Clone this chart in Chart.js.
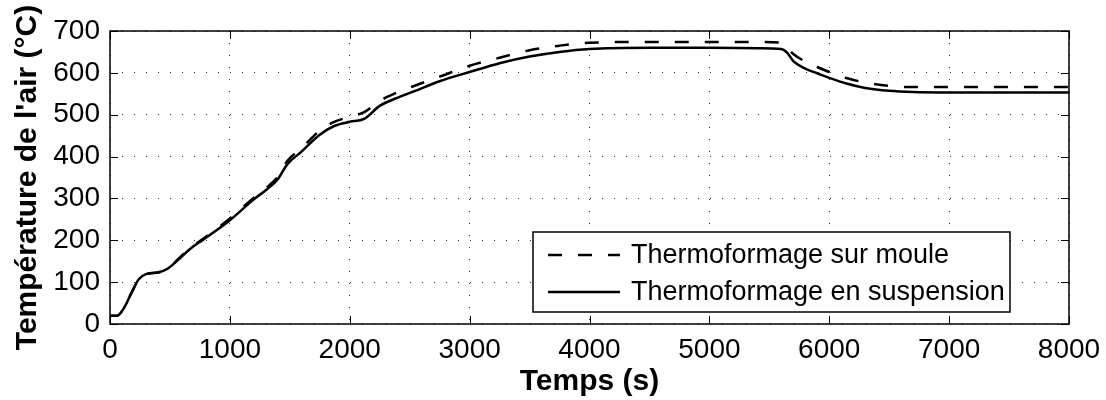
<!DOCTYPE html>
<html>
<head>
<meta charset="utf-8">
<script src="https://cdn.jsdelivr.net/npm/chart.js@4"></script>
<style>
  body { margin: 0; background: #fff; }
  #wrap { width: 1106px; height: 400px; }
</style>
</head>
<body>
<div id="wrap"><canvas id="tempChart" width="1106" height="400"></canvas></div>
<script>
const times = [0, 60, 120, 180, 240, 300, 400, 480, 590, 670, 780, 1000, 1200, 1310, 1400, 1480, 1590, 1750, 1870, 2000,
    2120, 2250, 2420, 2530, 2750, 3000, 3250, 3500, 3750, 4000, 4500, 5000, 5400, 5600, 5650, 5700, 5800, 5900, 6000,
    6150, 6300, 6500, 6700, 7000, 7500, 8000];

const surMoule = [20, 20, 40, 75, 107, 119, 123, 132, 161, 182, 204, 252, 302, 327, 352, 390, 418, 462, 483, 495,
    506, 533, 556, 568, 591, 617, 636, 654, 665, 672, 674, 674, 674, 672, 660, 645, 627, 614, 602,
    587, 577, 569, 566, 566, 566, 566];

const enSuspension = [20, 20, 40, 75, 107, 119, 123, 132, 159, 180, 202, 248, 298, 322, 346, 382, 410, 452, 473, 483,
    490, 521, 543, 555, 580, 602, 623, 639, 650, 657, 660, 660, 659, 657, 648, 628, 610, 599, 588,
    574, 564, 557, 554, 553, 553, 553];

const seriesLabels = ['Thermoformage sur moule', 'Thermoformage en suspension'];
const xTicks = [0, 1000, 2000, 3000, 4000, 5000, 6000, 7000, 8000];
const yTicks = [0, 100, 200, 300, 400, 500, 600, 700];

const FONT = "'Liberation Sans', Arial, Helvetica, sans-serif";

function toPoints(values) {
    return times.map((t, i) => ({ x: t, y: values[i] }));
}

// black frame + inward tick marks on all four sides
const framePlugin = {
    id: 'frame',
    afterDatasetsDraw(chart) {
        const { ctx, chartArea: a, scales } = chart;
        const len = 8;
        ctx.save();
        ctx.strokeStyle = '#000';
        ctx.lineWidth = 1;
        xTicks.forEach(v => {
            const x = Math.round(scales.x.getPixelForValue(v)) + 0.5;
            ctx.beginPath();
            ctx.moveTo(x, a.bottom); ctx.lineTo(x, a.bottom - len);
            ctx.moveTo(x, a.top); ctx.lineTo(x, a.top + len);
            ctx.stroke();
        });
        yTicks.forEach(v => {
            const y = Math.round(scales.y.getPixelForValue(v)) + 0.5;
            ctx.beginPath();
            ctx.moveTo(a.left, y); ctx.lineTo(a.left + len, y);
            ctx.moveTo(a.right, y); ctx.lineTo(a.right - len, y);
            ctx.stroke();
        });
        ctx.lineWidth = 1.5;
        ctx.strokeRect(a.left, a.top, a.right - a.left, a.bottom - a.top);
        ctx.restore();
    }
};

// legend box inside the plot, bottom right
const boxLegendPlugin = {
    id: 'boxLegend',
    afterDraw(chart) {
        const { ctx, chartArea: a } = chart;
        const w = 477, h = 80;
        const x0 = a.right - 59 - w;
        const y0 = a.bottom - 12 - h;
        ctx.save();
        ctx.fillStyle = '#fff';
        ctx.fillRect(x0, y0, w, h);
        ctx.strokeStyle = '#000';
        ctx.lineWidth = 1.5;
        ctx.strokeRect(x0, y0, w, h);
        const rows = [y0 + 23, y0 + 60];
        chart.data.datasets.forEach((ds, i) => {
            ctx.beginPath();
            ctx.setLineDash(ds.borderDash || []);
            ctx.lineWidth = ds.borderWidth;
            ctx.strokeStyle = ds.borderColor;
            ctx.moveTo(x0 + 15, rows[i]);
            ctx.lineTo(x0 + 87, rows[i]);
            ctx.stroke();
            ctx.setLineDash([]);
            ctx.fillStyle = '#000';
            ctx.font = '27px ' + FONT;
            ctx.textBaseline = 'middle';
            ctx.textAlign = 'left';
            ctx.fillText(ds.label, x0 + 98, rows[i] + 1);
        });
        ctx.restore();
    }
};

new Chart(document.getElementById('tempChart'), {
    type: 'line',
    data: {
        datasets: [
            {
                label: seriesLabels[0],
                data: toPoints(surMoule),
                borderColor: '#000',
                borderWidth: 2.5,
                borderDash: [14, 16],
                pointRadius: 0,
                cubicInterpolationMode: 'monotone',
                fill: false
            },
            {
                label: seriesLabels[1],
                data: toPoints(enSuspension),
                borderColor: '#000',
                borderWidth: 2.5,
                pointRadius: 0,
                cubicInterpolationMode: 'monotone',
                fill: false
            }
        ]
    },
    options: {
        responsive: false,
        animation: false,
        layout: { padding: { top: 31, right: 37, left: 0, bottom: 0 } },
        plugins: {
            legend: { display: false },
            tooltip: { enabled: false }
        },
        scales: {
            x: {
                type: 'linear',
                min: 0,
                max: 8000,
                afterBuildTicks: s => { s.ticks = xTicks.map(v => ({ value: v })); },
                afterFit: s => { s.height = 76; s.paddingLeft = 0; s.paddingRight = 0; },
                grid: { color: '#333', lineWidth: 1, drawTicks: false },
                border: { display: false, dash: [1, 11] },
                ticks: {
                    color: '#000', padding: 9, maxRotation: 0,
                    font: { family: FONT, size: 28 },
                    callback: v => String(v)
                },
                title: {
                    display: true,
                    text: 'Temps (s)',
                    color: '#000',
                    font: { family: FONT, size: 30, weight: 'bold' },
                    padding: { top: 0, bottom: 0 }
                }
            },
            y: {
                min: 0,
                max: 700,
                afterBuildTicks: s => { s.ticks = yTicks.map(v => ({ value: v })); },
                afterFit: s => { s.width = 110; s.paddingTop = 0; s.paddingBottom = 0; },
                grid: { color: '#333', lineWidth: 1, drawTicks: false },
                border: { display: false, dash: [1, 11] },
                ticks: {
                    color: '#000', padding: 10,
                    font: { family: FONT, size: 28 },
                    callback: v => String(v)
                },
                title: {
                    display: true,
                    text: "Température de l'air (°C)",
                    color: '#000',
                    font: { family: FONT, size: 30, weight: 'bold' },
                    padding: { top: 10, bottom: 0 }
                }
            }
        }
    },
    plugins: [framePlugin, boxLegendPlugin]
});
</script>
</body>
</html>
